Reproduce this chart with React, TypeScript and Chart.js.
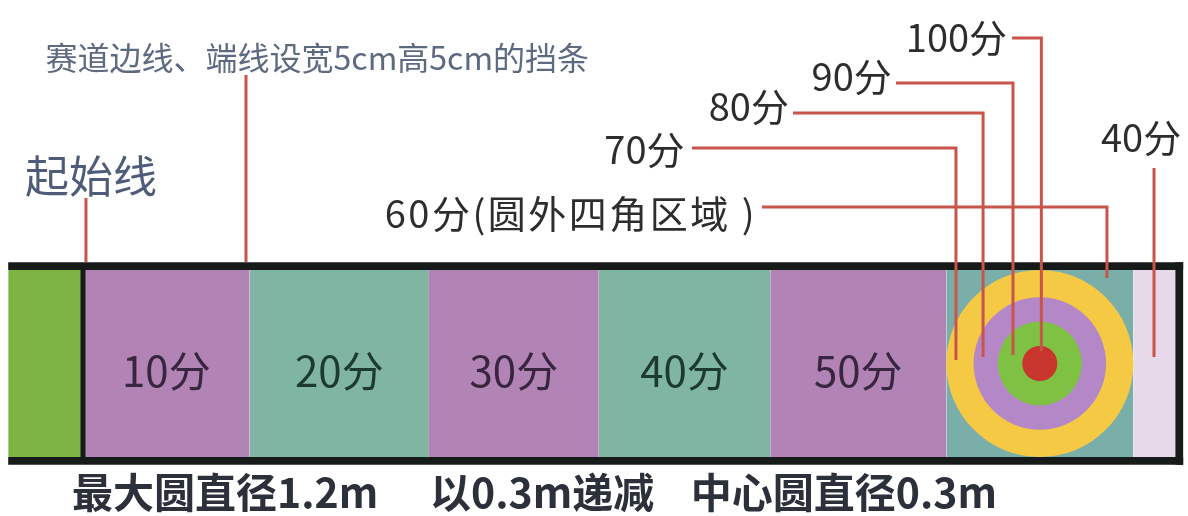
import { useEffect, useRef } from 'react';
import { Chart, registerables } from 'chart.js';

Chart.register(...registerables);

// ---------------- data (metres / scores) ----------------
const trackWidth = 1.2; // lane width between the rails
const railWidth = 0.05; // 5 cm rails
const runUpLength = 0.48; // green area behind the start line
const zoneLengths = [1.07, 1.15, 1.09, 1.1, 1.13, 1.2, 0.27];
const zoneLabels = ['10分', '20分', '30分', '40分', '50分', '', ''];
const zoneKinds = ['purple', 'teal', 'purple', 'teal', 'purple', 'target', 'end'];
const ringDiameters = [1.2, 0.85, 0.54, 0.225];
const ringKinds = ['yellow', 'violet', 'green', 'red'];
const calloutLabels = ['100分', '90分', '80分', '70分', '60分(圆外四角区域 )', '40分'];
const railNote = '赛道边线、端线设宽5cm高5cm的挡条';
const startLineLabel = '起始线';
const footnotes = ['最大圆直径1.2m', '以0.3m递减', '中心圆直径0.3m'];

// ---------------- layout ----------------
const W = 1188;
const H = 516;
const PX_PER_M = 155.83;
const ORIGIN = { x: 83, y: 457 }; // start line / lower lane edge on the canvas
const X_MIN = -ORIGIN.x / PX_PER_M;
const X_MAX = (W - ORIGIN.x) / PX_PER_M;
const Y_MIN = -(H - ORIGIN.y) / PX_PER_M;
const Y_MAX = ORIGIN.y / PX_PER_M;

const COLORS: Record<string, string> = {
  runUp: '#7db443',
  purple: '#b283b5',
  teal: '#80b4a3',
  target: '#7aafa9',
  end: '#e8d9ea',
  yellow: '#f6c945',
  violet: '#b487c6',
  green: '#7fc243',
  red: '#c7352c',
  rail: '#161a18',
  leader: '#c9554a',
  text: '#2d2d2f',
  note: '#5d6a80',
  start: '#4e5c79',
  onPurple: '#38253f',
  onTeal: '#1b3a31',
  foot: '#2b303b',
};

// callout geometry (metres): label anchor + leader path
const calloutLayout = [
  { tx: 5.93, ty: 2.69, align: 'right', spacing: 0, path: [[5.962, 2.689], [6.15, 2.689], [6.15, 0.68]] },
  { tx: 5.19, ty: 2.44, align: 'right', spacing: 0, path: [[5.217, 2.4], [5.968, 2.4], [5.968, 0.655]] },
  { tx: 4.53, ty: 2.25, align: 'right', spacing: 0, path: [[4.556, 2.208], [5.776, 2.208], [5.776, 0.642]] },
  { tx: 3.86, ty: 1.97, align: 'right', spacing: 0, path: [[3.908, 1.983], [5.602, 1.983], [5.602, 0.622]] },
  { tx: 4.31, ty: 1.56, align: 'right', spacing: 2.5, path: [[4.357, 1.604], [6.571, 1.604], [6.571, 1.149]] },
  { tx: 6.79, ty: 2.05, align: 'center', spacing: 0, path: [[6.873, 1.855], [6.873, 0.642]] },
];
const railNoteLayout = { tx: -0.24, ty: 2.56, path: [[1.046, 2.451], [1.046, 1.251]] };
const startLabelLayout = { tx: -0.372, ty: 1.8, path: [[0.019, 1.662], [0.019, 1.251]] };
const footnoteX = [-0.07, 2.227, 3.9];
const footnoteY = -0.225;
const zoneLabelY = 0.55;

const FONT = '"Noto Sans CJK SC", "Noto Sans", sans-serif';

export default function App() {
  const ref = useRef<HTMLCanvasElement | null>(null);

  useEffect(() => {
    const canvas = ref.current;
    if (!canvas) return;

    // zone boundaries
    const starts: number[] = [];
    let acc = 0;
    zoneLengths.forEach((len) => {
      starts.push(acc);
      acc += len;
    });
    const trackEnd = acc;
    const targetIdx = zoneKinds.indexOf('target');
    const ringCx = starts[targetIdx] + zoneLengths[targetIdx] / 2;
    const ringCy = trackWidth / 2;
    const railPx = railWidth * PX_PER_M;

    const datasets: any[] = [];

    const rect = (x0: number, x1: number, color: string, order: number) => ({
      type: 'line',
      data: [
        { x: x0, y: trackWidth },
        { x: x1, y: trackWidth },
      ],
      fill: 'origin',
      backgroundColor: color,
      borderWidth: 0,
      pointRadius: 0,
      tension: 0,
      order,
    });

    datasets.push(rect(-runUpLength, 0, COLORS.runUp, 10));
    zoneLengths.forEach((len, i) => {
      datasets.push(rect(starts[i], starts[i] + len, COLORS[zoneKinds[i]], 10));
    });

    // target rings: a single point each, radius from the x scale
    ringDiameters.forEach((d, i) => {
      datasets.push({
        type: 'scatter',
        data: [{ x: ringCx, y: ringCy, d }],
        showLine: false,
        pointStyle: 'circle',
        backgroundColor: COLORS[ringKinds[i]],
        pointBackgroundColor: COLORS[ringKinds[i]],
        pointBorderWidth: 0,
        borderWidth: 0,
        pointRadius: (ctx: any) => {
          const s = ctx.chart.scales.x;
          const r = d / 2;
          const px = Math.abs(s.getPixelForValue(ringCx + r) - s.getPixelForValue(ringCx));
          return isFinite(px) ? px : 0;
        },
        pointHoverRadius: 0,
        clip: false,
        order: 8 - i * 0.1,
      });
    });

    const line = (pts: number[][], color: string, width: number, order: number) => ({
      type: 'line',
      data: pts.map(([x, y]) => ({ x, y })),
      borderColor: color,
      borderWidth: width,
      borderCapStyle: 'butt',
      borderJoinStyle: 'miter',
      pointRadius: 0,
      fill: false,
      tension: 0,
      order,
    });

    const railOuter = trackEnd + railWidth;
    // rails
    datasets.push(line([[-runUpLength, trackWidth + railWidth / 2], [railOuter, trackWidth + railWidth / 2]], COLORS.rail, railPx, 3));
    datasets.push(line([[-runUpLength, -railWidth / 2], [railOuter, -railWidth / 2]], COLORS.rail, railPx, 3));
    datasets.push(line([[trackEnd + railWidth / 2, -railWidth], [trackEnd + railWidth / 2, trackWidth + railWidth]], COLORS.rail, railPx, 3));
    // start line
    datasets.push(line([[0, 0], [0, trackWidth]], COLORS.rail, 5, 3));

    // leaders
    calloutLayout.forEach((c) => datasets.push(line(c.path, COLORS.leader, 3, 1)));
    datasets.push(line(railNoteLayout.path, COLORS.leader, 3, 1));
    datasets.push(line(startLabelLayout.path, COLORS.leader, 3, 1));

    const textPlugin = {
      id: 'diagramText',
      afterDatasetsDraw(chart: any) {
        const { ctx, scales } = chart;
        const X = (v: number) => scales.x.getPixelForValue(v);
        const Y = (v: number) => scales.y.getPixelForValue(v);
        ctx.save();
        ctx.textBaseline = 'middle';

        // zone labels
        ctx.textAlign = 'center';
        ctx.font = `42px ${FONT}`;
        zoneLabels.forEach((lab, i) => {
          if (!lab) return;
          ctx.fillStyle = zoneKinds[i] === 'teal' ? COLORS.onTeal : COLORS.onPurple;
          ctx.fillText(lab, X(starts[i] + zoneLengths[i] / 2), Y(zoneLabelY));
        });

        // callouts
        ctx.font = `38px ${FONT}`;
        ctx.fillStyle = COLORS.text;
        calloutLabels.forEach((lab, i) => {
          const c = calloutLayout[i];
          ctx.textAlign = c.align;
          (ctx as any).letterSpacing = `${c.spacing}px`;
          ctx.fillText(lab, X(c.tx) + (c.align === 'right' ? c.spacing : 0), Y(c.ty));
        });
        (ctx as any).letterSpacing = '0px';

        // rail note
        ctx.textAlign = 'left';
        ctx.font = `32px ${FONT}`;
        ctx.fillStyle = COLORS.note;
        ctx.fillText(railNote, X(railNoteLayout.tx), Y(railNoteLayout.ty));

        // start line label
        ctx.font = `44px ${FONT}`;
        ctx.fillStyle = COLORS.start;
        ctx.fillText(startLineLabel, X(startLabelLayout.tx), Y(startLabelLayout.ty));

        // footnotes
        ctx.font = `bold 41px ${FONT}`;
        ctx.fillStyle = COLORS.foot;
        footnotes.forEach((t, i) => ctx.fillText(t, X(footnoteX[i]), Y(footnoteY)));

        ctx.restore();
      },
    };

    const chart = new Chart(canvas, {
      type: 'scatter',
      data: { datasets },
      options: {
        animation: false,
        responsive: false,
        events: [],
        layout: { padding: 0 },
        plugins: { legend: { display: false }, tooltip: { enabled: false }, title: { display: false } },
        scales: {
          x: { type: 'linear', min: X_MIN, max: X_MAX, display: false },
          y: { type: 'linear', min: Y_MIN, max: Y_MAX, display: false },
        },
      } as any,
      plugins: [textPlugin],
    });

    let alive = true;
    if ((document as any).fonts && (document as any).fonts.ready) {
      (document as any).fonts.ready.then(() => {
        if (alive) chart.draw();
      });
    }

    return () => {
      alive = false;
      chart.destroy();
    };
  }, []);

  return (
    <div style={{ position: 'absolute', left: 0, top: 0, width: W, height: H, background: '#ffffff' }}>
      <canvas ref={ref} width={W} height={H} style={{ width: W, height: H, display: 'block' }} />
    </div>
  );
}
